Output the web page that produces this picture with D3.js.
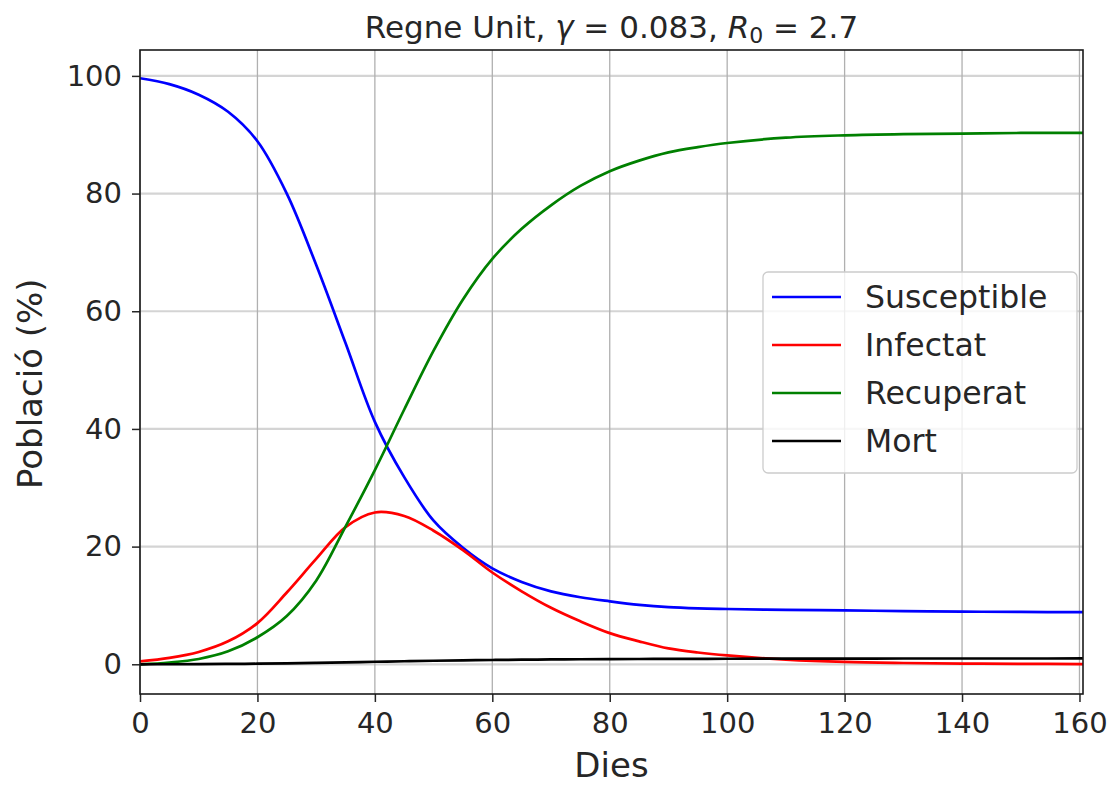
<!DOCTYPE html>
<html>
<head>
<meta charset="utf-8">
<script src="https://cdn.jsdelivr.net/npm/d3@7"></script>
<style>
body{margin:0;background:#fff}
svg text{font-family:"DejaVu Sans",sans-serif;fill:#262626}
</style>
</head>
<body>
<div id="chart"></div>
<script>

const days=[0,5,10,15,20,25,30,35,40,45,50,55,60,65,70,75,80,85,90,95,100,110,120,130,140,150,161]

const susceptible=[99.6,98.6,96.8,93.9,88.9,80.0,67.9,54.6,41.2,31.8,24.4,19.8,16.3,14.0,12.4,11.4,10.7,10.1,9.7,9.5,9.4,9.25,9.15,9.05,8.95,8.9,8.85]
const infectat=[0.5,1.1,2.1,3.9,7.0,12.2,17.9,23.3,25.8,25.2,22.7,19.4,15.6,12.4,9.6,7.3,5.3,3.9,2.7,2.0,1.5,0.8,0.4,0.22,0.12,0.07,0.04]
const recuperat=[0,0.3,0.9,2.2,4.6,8.2,14.2,23.4,33.0,43.3,53.3,62.0,68.9,74.0,78.0,81.3,83.8,85.6,87.0,87.9,88.6,89.5,89.9,90.1,90.2,90.3,90.3]
const mort=[0,0.01,0.03,0.06,0.1,0.16,0.24,0.33,0.43,0.52,0.6,0.67,0.73,0.78,0.82,0.86,0.88,0.9,0.92,0.93,0.94,0.96,0.97,0.98,0.98,0.98,0.99]

const seriesNames=["Susceptible","Infectat","Recuperat","Mort"]
const seriesValues=[susceptible,infectat,recuperat,mort]
const seriesColors=["#0000ff","#ff0000","#008000","#000000"]

const xTicks=[0,20,40,60,80,100,120,140,160]
const yTicks=[0,20,40,60,80,100]

const W=1115
const H=785
const plotL=140,plotR=1083,plotT=50,plotB=694

const svg=d3.select("#chart")
.append("svg")
.attr("width",W)
.attr("height",H)

const x=d3.scaleLinear().domain([0,160.6]).range([plotL,plotR])
const y=d3.scaleLinear().domain([-5.05,104.4]).range([plotB,plotT])

// grid
svg.append("g")
.selectAll("line")
.data(yTicks)
.enter()
.append("line")
.attr("x1",plotL).attr("x2",plotR)
.attr("y1",d=>y(d)).attr("y2",d=>y(d))
.attr("stroke","#d4d4d4")
.attr("stroke-width",2.2)

svg.append("g")
.selectAll("line")
.data(xTicks)
.enter()
.append("line")
.attr("x1",d=>x(d)).attr("x2",d=>x(d))
.attr("y1",plotT).attr("y2",plotB)
.attr("stroke","#b0b0b0")
.attr("stroke-width",1.3)

// curves
svg.append("clipPath").attr("id","clip")
.append("rect")
.attr("x",plotL).attr("y",plotT)
.attr("width",plotR-plotL).attr("height",plotB-plotT)

const line=d3.line()
.x((d,i)=>x(days[i]))
.y(d=>y(d))
.curve(d3.curveCatmullRom.alpha(0.5))

const curves=svg.append("g").attr("clip-path","url(#clip)")

seriesValues.forEach((vals,i)=>{
curves.append("path")
.attr("d",line(vals))
.attr("fill","none")
.attr("stroke",seriesColors[i])
.attr("stroke-width",2.7)
})

// axes
const xAxis=svg.append("g")
.attr("transform","translate(0,"+plotB+")")
.call(d3.axisBottom(x).tickValues(xTicks).tickSize(8).tickPadding(10))

const yAxis=svg.append("g")
.attr("transform","translate("+plotL+",0)")
.call(d3.axisLeft(y).tickValues(yTicks).tickSize(8).tickPadding(10))

;[xAxis,yAxis].forEach(a=>{
a.select(".domain").remove()
a.selectAll("line").attr("stroke","#262626").attr("stroke-width",1.5)
a.selectAll("text").attr("font-size","29px").attr("fill","#262626")
})

svg.append("rect")
.attr("x",plotL).attr("y",plotT)
.attr("width",plotR-plotL).attr("height",plotB-plotT)
.attr("fill","none")
.attr("stroke","#1a1a1a")
.attr("stroke-width",1.6)

// labels
svg.append("text")
.attr("x",(plotL+plotR)/2)
.attr("y",777)
.attr("text-anchor","middle")
.attr("font-size","34px")
.text("Dies")

svg.append("text")
.attr("transform","translate(42,489) rotate(-90)")
.attr("font-size","34px")
.text("Població (%)")

const title=svg.append("text")
.attr("x",(plotL+plotR)/2)
.attr("y",38)
.attr("text-anchor","middle")
.attr("font-size","31px")

title.append("tspan").text("Regne Unit, ")
title.append("tspan").attr("font-style","italic").text("γ")
title.append("tspan").text(" = 0.083, ")
title.append("tspan").attr("font-style","italic").text("R")
title.append("tspan").attr("font-size","22px").attr("dy",5).text("0")
title.append("tspan").attr("dy",-5).text(" = 2.7")

// legend
const lg=svg.append("g")

lg.append("rect")
.attr("x",763).attr("y",272)
.attr("width",314).attr("height",201)
.attr("rx",5)
.attr("fill","#ffffff")
.attr("fill-opacity",0.8)
.attr("stroke","#cccccc")
.attr("stroke-width",1.3)

seriesNames.forEach((name,i)=>{
const ly=297+i*48
lg.append("line")
.attr("x1",772).attr("x2",841)
.attr("y1",ly).attr("y2",ly)
.attr("stroke",seriesColors[i])
.attr("stroke-width",2.7)
lg.append("text")
.attr("x",865)
.attr("y",ly+11)
.attr("font-size","31.5px")
.text(name)
})

</script>
</body>
</html>
